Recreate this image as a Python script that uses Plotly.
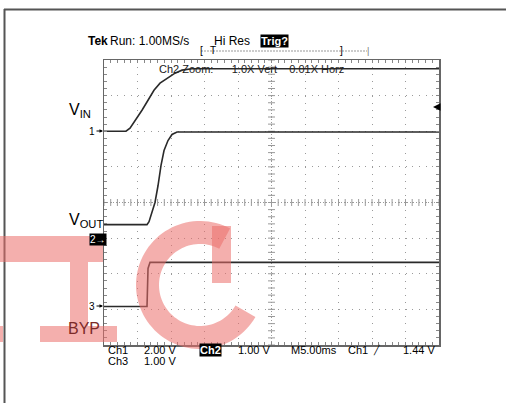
import numpy as np
import plotly.graph_objects as go

W, H = 506, 403
FONT = "Liberation Sans, Arial, sans-serif"

# ---------------- data (time in ms, values in volts) ----------------
vin_t = [0, 3.28, 3.88, 4.78, 5.67, 6.57, 7.46, 8.36, 9.40, 10.6, 11.64, 13.13, 50]
vin_v = [0, 0, 0.17, 0.67, 1.18, 1.74, 2.30, 2.70, 2.98, 3.26, 3.43, 3.51, 3.51]

vout_t = [0, 6.42, 6.72, 7.16, 7.61, 8.06, 8.51, 8.96, 9.55, 10.15, 10.9, 50]
vout_v = [0.45, 0.45, 0.53, 0.79, 1.07, 1.54, 2.11, 2.53, 2.81, 2.98, 3.05, 3.05]

byp_t = [0, 6.42, 6.57, 6.87, 50]
byp_v = [0, 0, 1.07, 1.24, 1.24]

# channel settings: volts/div and ground position (divisions from centre)
ch_scale = {"ch1": 2.0, "ch2": 1.0, "ch3": 1.0}
ch_pos = {"ch1": 2.0, "ch2": -1.07, "ch3": -2.92}

x_range = [0, 50]   # 10 div x 5 ms
y_range = [-4, 4]   # 8 divisions

# plot-area pixel box
L, R, T, B = 104, 439, 60, 345


def px(x):
    return x / W


def py(y):
    return 1 - y / H


def div(ch, v):
    return [ch_pos[ch] + vv / ch_scale[ch] for vv in v]


fig = go.Figure()

GRID = "#9a9a9a"
# centre crosshair ticks
xt = np.arange(0, 50.001, 1.0)
fig.add_trace(go.Scatter(x=xt, y=[0] * len(xt), mode="markers",
                         marker=dict(symbol="line-ns", size=5, line=dict(width=1, color=GRID)),
                         hoverinfo="skip", showlegend=False))
yt = np.arange(-4, 4.001, 0.2)
fig.add_trace(go.Scatter(x=[25] * len(yt), y=yt, mode="markers",
                         marker=dict(symbol="line-ew", size=5, line=dict(width=1, color=GRID)),
                         hoverinfo="skip", showlegend=False))

TRACE = "#2a2a2a"
for t, v, ch in [(vin_t, vin_v, "ch1"), (vout_t, vout_v, "ch2"), (byp_t, byp_v, "ch3")]:
    fig.add_trace(go.Scatter(x=t, y=div(ch, v), mode="lines",
                             line=dict(color=TRACE, width=1.6),
                             hoverinfo="skip", showlegend=False))

axis_common = dict(showticklabels=False, showline=True, linecolor="#666", linewidth=1.5,
                   mirror="ticks", zeroline=False, ticks="inside", ticklen=3,
                   tickcolor="#888", tickwidth=1, showgrid=True, gridcolor=GRID, gridwidth=1)

fig.update_xaxes(range=x_range, dtick=5, tick0=0, domain=[px(L), px(R)],
                 griddash="1px,6.12px",
                 minor=dict(dtick=1, ticks="inside", ticklen=3, tickcolor="#888", showgrid=False),
                 **axis_common)
fig.update_yaxes(range=y_range, dtick=1, tick0=0, domain=[py(B), py(T)],
                 griddash="1px,5.7px",
                 minor=dict(dtick=0.2, ticks="inside", ticklen=3, tickcolor="#888", showgrid=False),
                 **axis_common)

shapes = []
# centre lines
shapes.append(dict(type="line", xref="x", yref="y", x0=0, x1=50, y0=0, y1=0,
                   line=dict(color=GRID, width=1, dash="1px,2px"), layer="below"))
shapes.append(dict(type="line", xref="x", yref="y", x0=25, x1=25, y0=-4, y1=4,
                   line=dict(color=GRID, width=1, dash="1px,2px"), layer="below"))
# outer frame
shapes.append(dict(type="line", xref="paper", yref="paper", x0=px(4), x1=1, y0=py(9.5), y1=py(9.5),
                   line=dict(color="#555", width=2)))
shapes.append(dict(type="line", xref="paper", yref="paper", x0=px(4.5), x1=px(4.5), y0=py(9), y1=0,
                   line=dict(color="#555", width=2)))
# trigger position bar
shapes.append(dict(type="line", xref="paper", yref="paper", x0=px(201), x1=px(367), y0=py(51), y1=py(51),
                   line=dict(color="#999", width=1, dash="2px,1px")))

# watermark
WM = "rgba(235,110,105,0.55)"


def rect(x0, y0, x1, y1):
    return dict(type="rect", xref="paper", yref="paper", x0=px(x0), x1=px(x1), y0=py(y1), y1=py(y0),
                fillcolor=WM, line=dict(width=0), layer="above")


shapes += [rect(0, 236, 103, 262), rect(70, 262, 88, 326), rect(40, 326, 117, 342), rect(0, 326, 3, 342),
           rect(212, 226, 231, 283)]
cx, cy, Ro, Ri = 200, 285, 64, 41
ang = np.radians(np.linspace(62, 330, 80))
outer = [(cx + Ro * np.cos(a), cy - Ro * np.sin(a)) for a in ang]
inner = [(cx + Ri * np.cos(a), cy - Ri * np.sin(a)) for a in ang[::-1]]
pts = outer + inner
path = "M " + " L ".join(f"{px(x):.5f},{py(y):.5f}" for x, y in pts) + " Z"
shapes.append(dict(type="path", xref="paper", yref="paper", path=path, fillcolor=WM,
                   line=dict(width=0), layer="above"))

anns = []


def ann(text, x, y, size=11, xanchor="left", color="black", **kw):
    d = dict(text=text, x=px(x), y=py(y), xref="paper", yref="paper", showarrow=False,
             xanchor=xanchor, yanchor="middle", font=dict(family=FONT, size=size, color=color))
    d.update(kw)
    return d


anns += [
    ann("<b>Tek</b>", 86, 41, 12),
    ann("Run: 1.00MS/s", 108, 41, 12),
    ann("Hi Res", 212, 41, 12),
    ann("<b>Trig?</b>", 260, 41, 11, color="white", bgcolor="black", borderpad=0),
    ann("[", 198, 51, 10),
    ann("T", 208, 50, 10),
    ann("]", 338, 51, 10),
    ann("|", 365, 51, 9, color="#777"),
    ann("Ch2 Zoom:      1.0X Vert    0.01X Horz", 157, 69, 11, color="#222"),
    ann("V<sub>IN</sub>", 67, 110, 16),
    ann("V<sub>OUT</sub>", 67, 221, 16),
    ann("BYP", 66, 328, 16, color="#7c2a28"),
    ann("Ch1", 106, 350, 11), ann("2.00 V", 142, 350, 11),
    ann("<b>Ch2</b>", 199, 350, 11, color="white", bgcolor="black", borderpad=0),
    ann("1.00 V", 236, 350, 11), ann("M5.00ms", 289, 350, 11), ann("Ch1", 346, 350, 11),
    ann("\u2571", 371, 350, 9), ann("1.44 V", 401, 350, 11),
    ann("Ch3", 106, 361, 11), ann("1.00 V", 142, 361, 11),
    ann("2\u2192", 89, 240, 10, color="white", bgcolor="black", borderpad=0),
]
# channel ground markers with arrows
for lbl, y in [("1", 131), ("3", 306)]:
    anns.append(dict(text=lbl, x=px(103), y=py(y), xref="paper", yref="paper", showarrow=True,
                     ax=-11, ay=0, arrowhead=2, arrowsize=0.7, arrowwidth=1, arrowcolor="black",
                     standoff=0, font=dict(family=FONT, size=10, color="black")))
# trigger level marker
anns.append(dict(text="", x=px(433), y=py(107), xref="paper", yref="paper", showarrow=True,
                 ax=6, ay=0, arrowhead=2, arrowsize=1, arrowwidth=1.5, arrowcolor="black", standoff=0))

fig.update_layout(width=W, height=H, margin=dict(l=0, r=0, t=0, b=0),
                  paper_bgcolor="white", plot_bgcolor="white",
                  shapes=shapes, annotations=anns, showlegend=False,
                  font=dict(family=FONT))

fig.write_html("out.html", config={"displayModeBar": False, "staticPlot": True},
               post_script="document.body.style.margin='0';document.body.style.overflow='hidden';")
